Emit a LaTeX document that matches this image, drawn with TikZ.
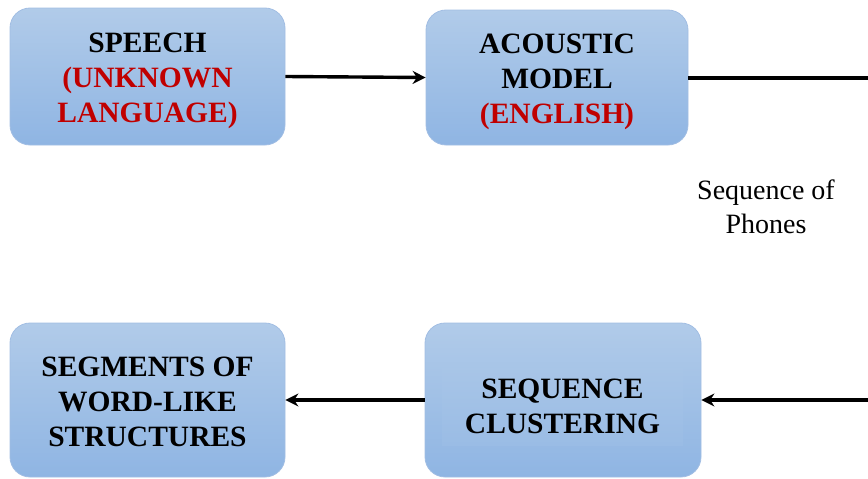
\documentclass[tikz,border=0pt]{standalone}
\usepackage{fontspec}
\setmainfont{Liberation Serif}
\usepackage{tikz}
\usetikzlibrary{arrows.meta, positioning}
\definecolor{boxtop}{HTML}{B1CBE9}
\definecolor{boxbottom}{HTML}{8FB5E3}
\definecolor{boxedge}{HTML}{A2BEE3}
\definecolor{langred}{HTML}{C00000}
\newcommand{\langname}[1]{\textcolor{langred}{#1}}
\tikzstyle{stage} = [draw=boxedge, line width=0.8pt, top color=boxtop, bottom color=boxbottom, rectangle, rounded corners=20pt, inner sep=0pt]
\tikzstyle{stagetext} = [align=center, inner sep=0pt, font=\fontsize{29.5}{35}\selectfont\bfseries]
\tikzstyle{innerpanel} = [rectangle, top color=boxbottom!27!boxtop, bottom color=boxbottom!68!boxtop, minimum width=241pt, minimum height=77pt]
\tikzstyle{flow} = [line width=3.4pt, -{Stealth[length=13pt,width=13pt]}]
\tikzstyle{note} = [align=center, inner sep=0pt, font=\fontsize{28}{34}\selectfont]

\begin{document}
\begin{tikzpicture}[x=1pt, y=-1pt]
	\useasboundingbox (0,0) rectangle (868,479);
	% top row
	\node[stage, minimum width=275pt, minimum height=137pt] (speech) at (147.5,76.5) {};
	\node[stagetext, yshift=-4pt] (speechtext) at (speech.center) {SPEECH\\\langname{(UNKNOWN}\\\langname{LANGUAGE)}};
	\node[stage, minimum width=262pt, minimum height=135pt] (acoustic) at (557,77.5) {};
	\node[stagetext, yshift=-4pt] (acoustictext) at (acoustic.center) {ACOUSTIC\\MODEL\\\langname{(ENGLISH)}};
	% bottom row
	\node[stage, minimum width=275pt, minimum height=154pt] (segments) at (147.5,400) {};
	\node[stagetext, yshift=-1.5pt] (segmentstext) at (segments.center) {SEGMENTS OF\\WORD-LIKE\\STRUCTURES};
	\node[stage, minimum width=276pt, minimum height=154pt] (clustering) at (563,400) {};
	\node[innerpanel] (clusterpanel) at (562.5,406.5) {};
	\node[stagetext] (clustertext) at (clusterpanel.center) {SEQUENCE\\CLUSTERING};
	% connectors
	\coordinate (turn) at (876,78);
	\draw[flow] (speech.east) -- (acoustic.west);
	\draw[flow] (acoustic.east |- turn) -- (turn) |- (clustering.east);
	\draw[flow] (clustering.west) -- (segments.east);
	\node[note] (phones) at (766,206.5) {Sequence of\\Phones};
\end{tikzpicture}
\end{document}
